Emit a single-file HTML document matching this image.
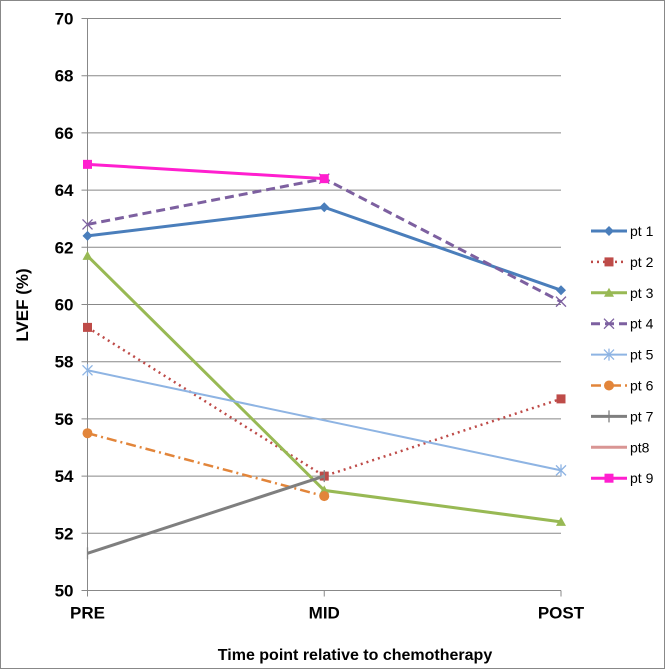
<!DOCTYPE html>
<html><head><meta charset="utf-8"><style>
body{margin:0;background:#fff;}
svg{display:block;font-family:"Liberation Sans",Arial,sans-serif;}
</style></head><body>
<svg id="chart" width="665" height="669">
<rect x="0.5" y="0.5" width="664" height="668" fill="#fff" stroke="#888"/>
<g id="grid"></g><g id="series"></g><g id="legend"></g>
<text x="28" y="305" font-size="17" font-weight="bold" text-anchor="middle" transform="rotate(-90 28 305)">LVEF (%)</text>
<text x="355" y="660" font-size="16" font-weight="bold" text-anchor="middle">Time point relative to chemotherapy</text>
</svg>
<script>
const categories=["PRE","MID","POST"];
const yTicks=[50,52,54,56,58,60,62,64,66,68,70];
const pt1=[62.4,63.4,60.5];
const pt2=[59.2,54.0,56.7];
const pt3=[61.7,53.5,52.4];
const pt4=[62.8,64.4,60.1];
const pt5=[57.7,null,54.2];
const pt6=[55.5,53.3,null];
const pt7=[51.3,54.0,null];
const pt8=[null,null,null];
const pt9=[64.9,64.4,null];
const names=["pt 1","pt 2","pt 3","pt 4","pt 5","pt 6","pt 7","pt8","pt 9"];
const seriesData=[pt1,pt2,pt3,pt4,pt5,pt6,pt7,pt8,pt9];
const styles=[
{c:"#4a7ebb",w:3,d:"",m:"diamond"},
{c:"#be4b48",w:2.5,d:"2,4",m:"square"},
{c:"#98b954",w:3,d:"",m:"triangle"},
{c:"#7d60a0",w:3,d:"9,5",m:"x"},
{c:"#8eb4e3",w:2,d:"",m:"star"},
{c:"#e2853a",w:2.5,d:"10,4,2,4",m:"circle"},
{c:"#7f7f7f",w:3,d:"",m:"plus"},
{c:"#d99594",w:3,d:"",m:"none"},
{c:"#ff1fcf",w:3,d:"",m:"square"}];
const NS="http://www.w3.org/2000/svg";
const L=87.5,R=561,T=18.5,B=590.5;
const xS=i=>L+(R-L)*i/(categories.length-1);
const yS=v=>B-(v-50)/20*(B-T);
function mk(tag,a,p){const e=document.createElementNS(NS,tag);for(const k in a)e.setAttribute(k,a[k]);p.appendChild(e);return e;}
const grid=document.getElementById('grid');
yTicks.forEach(t=>{
const g=mk('line',{x1:L-6,x2:R,y1:yS(t),y2:yS(t),stroke:"#888","stroke-width":1},grid);


const tx=mk('text',{x:L-14,y:yS(t)+6,"font-size":17,"font-weight":"bold","text-anchor":"end"},grid);
tx.textContent=t;


});
const ax=mk('line',{x1:L,x2:L,y1:T,y2:B+6,stroke:"#888"},grid);


categories.forEach((c,i)=>{
if(i>0){const tk=mk('line',{x1:xS(i),x2:xS(i),y1:B,y2:B+6,stroke:"#888"},grid);

}
const tx=mk('text',{x:xS(i),y:B+28,"font-size":17,"font-weight":"bold","text-anchor":"middle"},grid);
tx.textContent=c;


});
function marker(p,m,x,y,c){
let e;
if(m==="diamond")e=mk('path',{d:`M${x} ${y-5}L${x+5} ${y}L${x} ${y+5}L${x-5} ${y}Z`,fill:c},p);
else if(m==="square")e=mk('rect',{x:x-4.5,y:y-4.5,width:9,height:9,fill:c},p);
else if(m==="triangle")e=mk('path',{d:`M${x} ${y-5}L${x+5} ${y+4}L${x-5} ${y+4}Z`,fill:c},p);
else if(m==="circle")e=mk('circle',{cx:x,cy:y,r:5,fill:c},p);
else if(m==="x")e=mk('path',{d:`M${x-5} ${y-5}L${x+5} ${y+5}M${x+5} ${y-5}L${x-5} ${y+5}`,stroke:c,"stroke-width":1.3,fill:"none"},p);
else if(m==="star")e=mk('path',{d:`M${x-5} ${y-5}L${x+5} ${y+5}M${x+5} ${y-5}L${x-5} ${y+5}M${x} ${y-6}L${x} ${y+6}`,stroke:c,"stroke-width":1.3,fill:"none"},p);
else if(m==="plus")e=mk('path',{d:`M${x} ${y-6}L${x} ${y+6}`,stroke:c,"stroke-width":1.3,fill:"none"},p);
if(e){
}
}
const sg=document.getElementById('series');
seriesData.forEach((arr,si)=>{
const s=styles[si];
const g=mk('g',{},sg);


const pts=[];arr.forEach((v,i)=>{if(v!==null)pts.push([xS(i),yS(v)]);});
if(pts.length>1){const pl=mk('polyline',{points:pts.map(p=>p.join(',')).join(' '),fill:"none",stroke:s.c,"stroke-width":s.w,"stroke-dasharray":s.d},g);

}
arr.forEach((v,i)=>{if(v!==null&&!(si===4&&false))marker(g,s.m,xS(i),yS(v),s.c);});
});
const lg=document.getElementById('legend');
names.forEach((n,i)=>{
const s=styles[i];const y=231+i*30.9;
const g=mk('g',{},lg);


mk('line',{x1:591,x2:627,y1:y,y2:y,stroke:s.c,"stroke-width":s.w,"stroke-dasharray":s.d},g);
marker(g,s.m,609,y,s.c);
const t=mk('text',{x:630,y:y+5,"font-size":14},g);t.textContent=n;
});
</script>
</body></html>
